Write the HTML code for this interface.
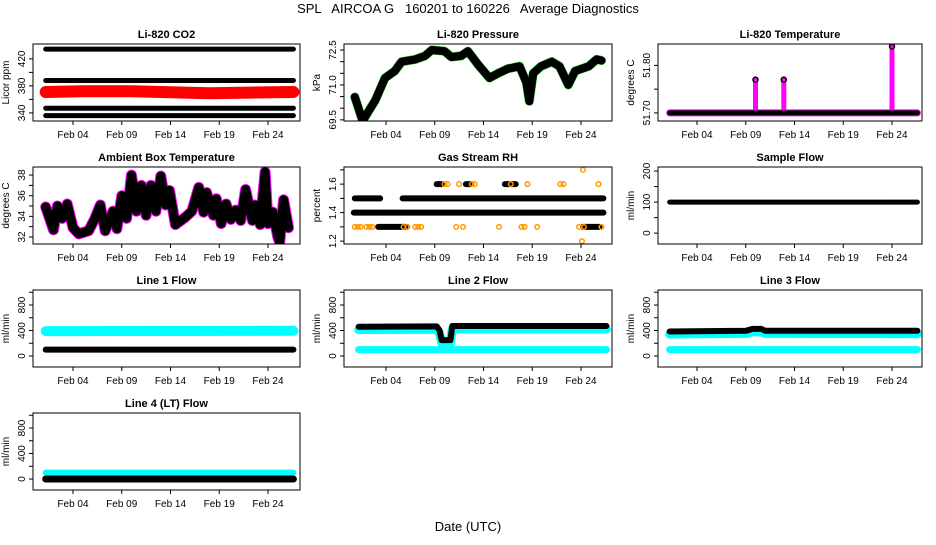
<!DOCTYPE html>
<html><head><meta charset="utf-8">
<style>
body{margin:0;background:#fff;}
svg text{font-family:"Liberation Sans",sans-serif;fill:#000;}
</style></head>
<body>
<svg id="chart" width="936" height="540" xmlns="http://www.w3.org/2000/svg">
<rect width="936" height="540" fill="#fff"/>
<text x="468" y="13" text-anchor="middle" font-size="13" xml:space="preserve">SPL   AIRCOA G   160201 to 160226   Average Diagnostics</text>
<text x="468" y="531" text-anchor="middle" font-size="13">Date (UTC)</text>
</svg>
<script>
// ---- data ----
const tickDays = [4, 9, 14, 19, 24];
const tickLabels = ['Feb 04', 'Feb 09', 'Feb 14', 'Feb 19', 'Feb 24'];

const co2BandVals = [434.5, 388, 347, 336];
const co2RedDays = [1.2, 5, 10, 13, 18, 22, 26.6];
const co2RedVals = [371, 372, 372, 371, 369, 370, 371];

const pressureDays = [0.8,1.6,2.9,3.9,4.9,5.6,7,8,8.7,10,10.7,11.7,12.4,13.4,14.6,15.5,16.5,17.7,18.4,18.7,19.1,19.9,21,21.8,22.7,23.4,24.8,25.6,26.1];
const pressureVals = [70.48,69.45,70.34,71.3,71.6,72.0,72.1,72.25,72.5,72.45,72.2,72.25,72.45,71.9,71.3,71.5,71.7,71.8,71.1,70.3,71.5,71.8,72.0,71.8,71.0,71.6,71.8,72.1,72.05];

const tempBase = 51.70;
const tempSpikeDays = [10.0, 12.9, 24.0];
const tempSpikeTops = [51.77, 51.77, 51.84];

const ambDays = [1.2,2.0,2.4,2.9,3.4,4.0,4.6,5.6,6.2,6.8,7.3,8.1,8.5,9.0,9.5,10.0,10.5,11.0,11.5,12.0,12.5,13.0,13.5,13.9,14.5,15.5,16.2,16.9,17.4,17.7,18.4,18.7,19.2,19.7,20.2,20.7,21.2,21.7,22.4,22.7,23.2,23.7,24.0,24.5,25.0,25.2,25.6,26.1];
const ambVals = [34.9,32.7,35.0,33.8,35.2,32.9,32.3,32.6,33.7,35.1,32.6,34.5,32.8,36.0,33.8,38.0,34.5,37.0,34.1,37.0,34.5,37.9,35.1,36.5,33.2,33.9,34.5,36.8,34.4,36.3,34.1,35.7,33.3,35.2,33.7,34.6,33.6,36.6,33.6,35.1,33.2,38.3,33.3,34.4,32.0,31.5,35.6,32.9];

const rhLevels = [1.5, 1.5, 1.4, 1.3, 1.3, 1.6, 1.6, 1.6];
const rhStart = [0.8, 5.7, 0.7, 3.2, 24.2, 9.2, 12.2, 16.2];
const rhEnd = [3.4, 26.3, 26.3, 6.0, 25.9, 9.7, 12.7, 17.3];
const rhPtDays = [0.8,1.1,1.4,2.0,2.3,2.6,5.8,6.2,7.0,7.3,7.6,10.0,10.3,11.2,11.5,11.9,12.8,13.1,15.6,16.8,17.9,18.2,18.5,19.5,21.9,22.2,23.8,24.3,24.1,24.2,25.8,26.1];
const rhPtVals = [1.3,1.3,1.3,1.3,1.3,1.3,1.3,1.3,1.3,1.3,1.3,1.6,1.6,1.3,1.6,1.3,1.6,1.6,1.3,1.6,1.3,1.3,1.6,1.3,1.6,1.6,1.3,1.3,1.2,1.7,1.6,1.3];

const sampleVals = [100, 100];
const line1Black = [100, 100];
const line1Cyan = [390, 395];
const line2Days = [1.2, 9.2, 9.5, 9.7, 10.6, 10.8, 26.6];
const line2Black = [460, 465, 400, 250, 250, 470, 470];
const line2Cyan = [415, 420, 355, 210, 210, 425, 425];
const line2Low = [100, 100];
const line3Days = [1.2, 9, 9.7, 10.6, 11, 26.6];
const line3Black = [385, 395, 425, 425, 395, 395];
const line3Cyan = [345, 355, 380, 380, 355, 350];
const line3Low = [100, 100];
const line4Cyan = [100, 100];
const line4Black = [0, 0];
const fullDays = [1.2, 26.6];

// ---- layout ----
const NS = 'http://www.w3.org/2000/svg';
const svg = document.getElementById('chart');
const cols = [{l:33,r:300,d4:73},{l:344,r:612,d4:386},{l:658,r:922,d4:697}];
const rows = [44,167,290,413];
const H = 77, PXDAY = 9.75;

function mk(tag, attrs, parent){
  const e = document.createElementNS(NS, tag);
  for (const k in attrs) e.setAttribute(k, attrs[k]);
  (parent||svg).appendChild(e);
  return e;
}

function panel(col,row,title,ylab,dmin,dmax,ticks,labels,name){
  const c = cols[col], top = rows[row];
  const g = mk('g',{});
  
  
  const xs = d => c.d4 + (d-4)*PXDAY;
  const ys = v => top + (dmax - v)/(dmax-dmin)*H;
  const clipId = 'clip'+col+row;
  const cp = mk('clipPath',{id:clipId},g);
  mk('rect',{x:c.l,y:top,width:c.r-c.l,height:H},cp);
  const plot = mk('g',{'clip-path':'url(#'+clipId+')'},g);
  
  
  const box = mk('rect',{x:c.l,y:top,width:c.r-c.l,height:H,fill:'none',stroke:'#000','stroke-width':1},g);
  
  
  const t = mk('text',{x:(c.l+c.r)/2,y:top-6,'text-anchor':'middle','font-size':11,'font-weight':'bold'},g);
  t.textContent = title;
  
  
  tickDays.forEach((d,i)=>{
    const x = xs(d);
    mk('line',{x1:x,x2:x,y1:top+H,y2:top+H+4,stroke:'#000'},g);
    const tl = mk('text',{x:x,y:top+H+17,'text-anchor':'middle','font-size':10},g);
    tl.textContent = tickLabels[i];
    
    
  });
  ticks.forEach((v,i)=>{
    const y = ys(v);
    mk('line',{x1:c.l-4,x2:c.l,y1:y,y2:y,stroke:'#000'},g);
    if (labels[i]!==''){
      const yl = mk('text',{x:c.l-8,y:y,'text-anchor':'middle','font-size':10,transform:'rotate(-90 '+(c.l-8)+' '+y+')'},g);
      yl.textContent = labels[i];
      
      
    }
  });
  const ym = top+H/2, yx = c.l-24;
  const yt = mk('text',{x:yx,y:ym,'text-anchor':'middle','font-size':10,transform:'rotate(-90 '+yx+' '+ym+')'},g);
  yt.textContent = ylab;
  
  
  return {xs,ys,plot};
}

function series(p,days,vals,color,w,name){
  const pts = days.map((d,i)=>p.xs(d).toFixed(1)+','+p.ys(vals[i]).toFixed(1)).join(' ');
  const e = mk('polyline',{points:pts,fill:'none',stroke:color,'stroke-width':w,'stroke-linecap':'round','stroke-linejoin':'round'},p.plot);
  
  
  return e;
}

// CO2
let p = panel(0,0,'Li-820 CO2','Licor ppm',328,442,[340,360,380,400,420],['340','','380','','420'],'co2');
series(p,co2RedDays,co2RedVals,'#ff0000',12,'co2-red-series');
co2BandVals.forEach(v=>series(p,fullDays,[v,v],'#000',5,'co2-black-band'));

// Pressure
p = panel(1,0,'Li-820 Pressure','kPa',69.45,72.76,[69.5,70,70.5,71,71.5,72,72.5],['69.5','','','71.0','','','72.5'],'pressure');
series(p,pressureDays,pressureVals,'#22cc22',9,'pressure-green-series');
series(p,pressureDays,pressureVals,'#000',8,'pressure-series');

// Temperature
p = panel(2,0,'Li-820 Temperature','degrees C',51.683,51.845,[51.70,51.75,51.80],['51.70','','51.80'],'li820-temp');
tempSpikeDays.forEach((d,i)=>series(p,[d,d],[tempBase,tempSpikeTops[i]],'#ff00ff',5,'temp-spike'));
tempSpikeDays.forEach((d,i)=>{
  const c = mk('circle',{cx:p.xs(d),cy:p.ys(tempSpikeTops[i]),r:2.5,fill:'none',stroke:'#000','stroke-width':1.5},p.plot);
  
  
});
series(p,fullDays,[tempBase,tempBase],'#ff00ff',7,'temp-magenta-base');
series(p,fullDays,[tempBase,tempBase],'#000',5,'temp-series');

// Ambient
p = panel(0,1,'Ambient Box Temperature','degrees C',31.32,38.78,[32,33,34,35,36,37,38],['32','','34','','36','','38'],'ambient');
series(p,ambDays,ambVals,'#ff00ff',11,'ambient-magenta-series');
series(p,ambDays,ambVals,'#000',9,'ambient-series');

// RH
p = panel(1,1,'Gas Stream RH','percent',1.18,1.72,[1.2,1.3,1.4,1.5,1.6,1.7],['1.2','','1.4','','1.6',''],'rh');
rhLevels.forEach((v,i)=>series(p,[rhStart[i],rhEnd[i]],[v,v],'#000',6,'rh-level'));
rhPtDays.forEach((d,i)=>{
  const c = mk('circle',{cx:p.xs(d),cy:p.ys(rhPtVals[i]),r:2.3,fill:'none',stroke:'#ff9900','stroke-width':1.5},p.plot);
  
  
});

// Sample flow
p = panel(2,1,'Sample Flow','ml/min',-35,213,[0,50,100,150,200],['0','','100','','200'],'sample-flow');
series(p,fullDays,sampleVals,'#000',5,'sample-flow-series');

const flowTicks = [0,200,400,600,800,1000], flowLabels = ['0','','400','','800',''];
// Line 1
p = panel(0,2,'Line 1 Flow','ml/min',-172,1035,flowTicks,flowLabels,'line1');
series(p,fullDays,line1Cyan,'#00ffff',10,'line1-cyan-series');
series(p,fullDays,line1Black,'#000',6,'line1-black-series');
// Line 2
p = panel(1,2,'Line 2 Flow','ml/min',-172,1035,flowTicks,flowLabels,'line2');
series(p,fullDays,line2Low,'#00ffff',7,'line2-cyan-low');
series(p,line2Days,line2Cyan,'#00ffff',9,'line2-cyan-series');
series(p,line2Days,line2Black,'#000',6,'line2-black-series');
// Line 3
p = panel(2,2,'Line 3 Flow','ml/min',-172,1035,flowTicks,flowLabels,'line3');
series(p,fullDays,line3Low,'#00ffff',7,'line3-cyan-low');
series(p,line3Days,line3Cyan,'#00ffff',9,'line3-cyan-series');
series(p,line3Days,line3Black,'#000',6,'line3-black-series');
// Line 4
p = panel(0,3,'Line 4 (LT) Flow','ml/min',-172,1035,flowTicks,flowLabels,'line4');
series(p,fullDays,line4Cyan,'#00ffff',6,'line4-cyan-series');
series(p,fullDays,line4Black,'#000',7,'line4-black-series');
</script>
</body></html>
